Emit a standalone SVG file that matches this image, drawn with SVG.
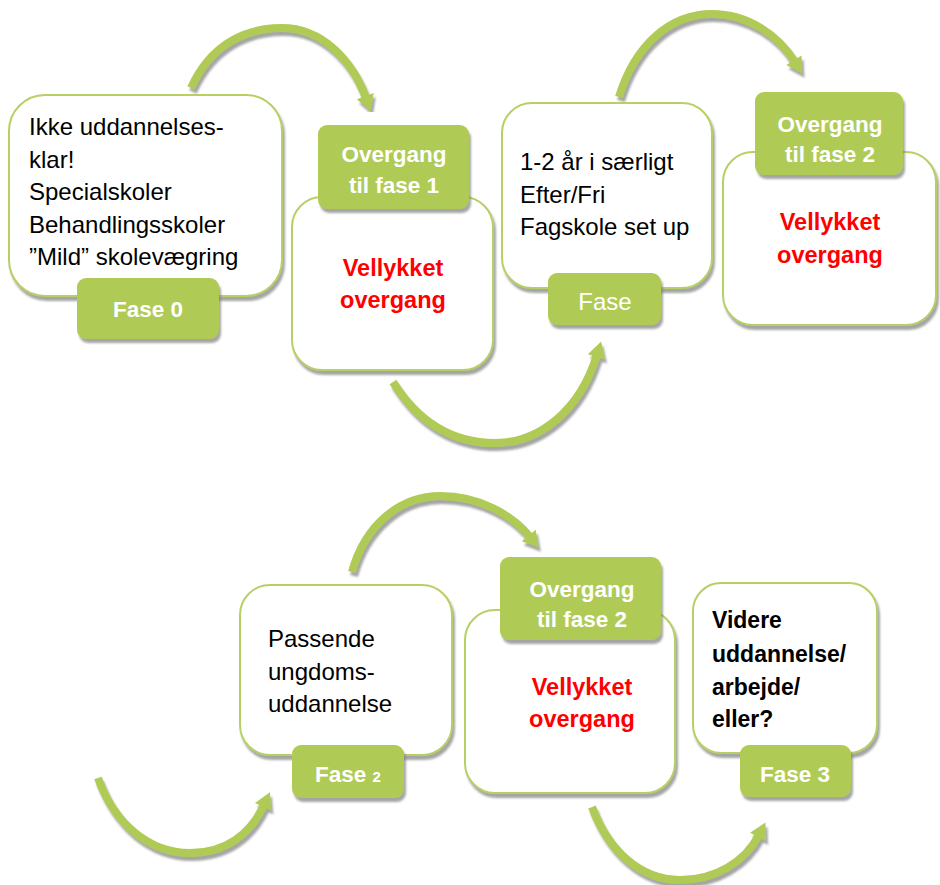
<svg xmlns="http://www.w3.org/2000/svg" width="940" height="885" viewBox="0 0 940 885">
<style>
.box{fill:#ffffff;stroke:#b6d064;stroke-width:2;filter:url(#sh)}
.lab{fill:#b0cb55;filter:url(#sh)}
.t{font-family:"Liberation Sans",Arial,sans-serif;font-size:24px;fill:#000}
.tb{font-family:"Liberation Sans",Arial,sans-serif;font-size:23px;font-weight:bold;fill:#000}
.w{font-family:"Liberation Sans",Arial,sans-serif;font-size:22.5px;font-weight:bold;fill:#fff;text-anchor:middle}
.wr{font-family:"Liberation Sans",Arial,sans-serif;font-size:24px;fill:#fff;text-anchor:middle}
.r{font-family:"Liberation Sans",Arial,sans-serif;font-size:23.5px;font-weight:bold;fill:#ff0000;text-anchor:middle}
.arr{fill:none;stroke:#b0cb55;stroke-width:8;marker-end:url(#ah);filter:url(#sh)}
</style>
<defs>
<filter id="sh" x="-20%" y="-20%" width="140%" height="140%">
<feDropShadow dx="2" dy="4" stdDeviation="1.2" flood-color="#7f7f7f" flood-opacity="0.7"/>
</filter>
<marker id="ah" markerUnits="userSpaceOnUse" markerWidth="30" markerHeight="30" refX="2" refY="10" orient="auto" overflow="visible">
<path d="M0,1 L16,10 L0,19 Z" fill="#b0cb55"/>
</marker>
</defs>
<rect width="940" height="885" fill="#ffffff"/>
<g id="connectors">
<path class="arr" d="M191,88 C212,42 248,28 282,28 C322,28 352,60 366,98"/>
<path class="arr" d="M619,97 C635,45 670,14 712,14 C748,14 778,35 795,62"/>
<path class="arr" d="M393,382 C420,425 455,443 495,443 C540,443 580,410 597,355"/>
<path class="arr" d="M352,572 C365,525 400,496 440,496 C480,496 512,515 530,537"/>
<path class="arr" d="M98,778 C115,825 150,853 190,853 C225,853 250,835 264,805"/>
<path class="arr" d="M592,807 C608,850 640,880 680,880 C715,880 745,862 759,835"/>
</g>
<g id="fase0">
<rect class="box" x="9" y="95" width="273" height="201" rx="36"/>
<text class="t" x="29" y="135">Ikke uddannelses-</text>
<text class="t" x="29" y="168">klar!</text>
<text class="t" x="29" y="200">Specialskoler</text>
<text class="t" x="29" y="233">Behandlingsskoler</text>
<text class="t" x="29" y="265">”Mild” skolevægring</text>
<rect class="lab" x="77" y="278" width="142" height="61" rx="9"/>
<text class="w" x="148" y="317">Fase 0</text>
</g>
<g id="overgang1">
<rect class="box" x="292" y="197" width="201" height="173" rx="30"/>
<rect class="lab" x="318" y="125" width="151" height="84" rx="9"/>
<text class="w" x="394" y="162">Overgang</text>
<text class="w" x="394" y="193">til fase 1</text>
<text class="r" x="393" y="276">Vellykket</text>
<text class="r" x="393" y="308">overgang</text>
</g>
<g id="fase1">
<rect class="box" x="502" y="103" width="210" height="185" rx="30"/>
<text class="t" x="520" y="170">1-2 år i særligt</text>
<text class="t" x="520" y="203">Efter/Fri</text>
<text class="t" x="520" y="235">Fagskole set up</text>
<rect class="lab" x="548" y="273" width="113" height="52" rx="9"/>
<text class="wr" x="605" y="310">Fase</text>
</g>
<g id="overgang2">
<rect class="box" x="723" y="152" width="213" height="173" rx="30"/>
<rect class="lab" x="755" y="92" width="148" height="83" rx="9"/>
<text class="w" x="830" y="132">Overgang</text>
<text class="w" x="830" y="162">til fase 2</text>
<text class="r" x="830" y="230">Vellykket</text>
<text class="r" x="830" y="263">overgang</text>
</g>
<g id="fase2">
<rect class="box" x="240" y="585" width="212" height="170" rx="30"/>
<text class="t" x="268" y="647">Passende</text>
<text class="t" x="268" y="680">ungdoms-</text>
<text class="t" x="268" y="712">uddannelse</text>
<rect class="lab" x="292" y="745" width="112" height="53" rx="9"/>
<text class="w" x="348" y="782">Fase <tspan font-size="15">2</tspan></text>
</g>
<g id="overgang3">
<rect class="box" x="465" y="610" width="210" height="183" rx="30"/>
<rect class="lab" x="500" y="557" width="161" height="83" rx="9"/>
<text class="w" x="582" y="597">Overgang</text>
<text class="w" x="582" y="627">til fase 2</text>
<text class="r" x="582" y="695">Vellykket</text>
<text class="r" x="582" y="727">overgang</text>
</g>
<g id="fase3">
<rect class="box" x="693" y="583" width="184" height="170" rx="28"/>
<text class="tb" x="712" y="628">Videre</text>
<text class="tb" x="712" y="662">uddannelse/</text>
<text class="tb" x="712" y="695">arbejde/</text>
<text class="tb" x="712" y="727">eller?</text>
<rect class="lab" x="740" y="745" width="111" height="52" rx="9"/>
<text class="w" x="795" y="782">Fase 3</text>
</g>
</svg>
